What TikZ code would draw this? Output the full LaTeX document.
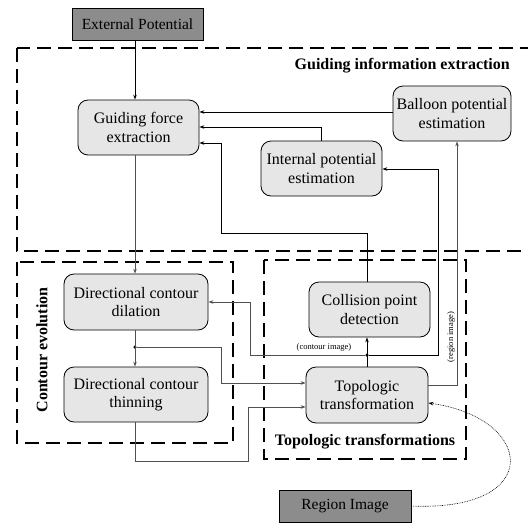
\documentclass[tikz,border=0pt]{standalone}
\usepackage{fontspec}
\setmainfont{Liberation Serif}
\usetikzlibrary{arrows.meta,calc}
\definecolor{boxfill}{HTML}{E6E6E6}
\definecolor{darkfill}{HTML}{8C8C8C}
\definecolor{linegray}{HTML}{505050}
\tikzset{
  procbox/.style={draw=black,line width=0.8pt,fill=boxfill,rounded corners=10pt,align=center,
     font=\fontsize{16}{18.5}\selectfont,inner sep=0pt},
  srcbox/.style={draw=black,line width=0.8pt,fill=darkfill,align=center,
     font=\fontsize{15.5}{18.5}\selectfont,inner sep=0pt},
  groupbox/.style={draw=black,line width=1.6pt,dash pattern=on 14pt off 7pt},
  grouplabel/.style={font=\fontsize{16}{19}\selectfont\bfseries,inner sep=0pt},
  smalllabel/.style={font=\fontsize{8.5}{10}\selectfont,inner sep=0pt},
  conn/.style={line width=0.7pt,draw=black,-{Stealth[length=5pt,width=3.5pt]}},
  gconn/.style={line width=0.7pt,draw=linegray,-{Stealth[length=5pt,width=3.5pt]}},
  jdot/.style={circle,fill=black,inner sep=0pt,minimum size=3.5pt},
}
\begin{document}
\begin{tikzpicture}[x=1pt,y=-1pt]
\useasboundingbox (0,0) rectangle (528,523);
\clip (0,0) rectangle (528,523);
% group boxes
\draw[groupbox] (17,48) rectangle (545,251);
\draw[groupbox] (17,262) rectangle (233,443);
\draw[groupbox] (264,260) rectangle (466,459);
\node[grouplabel,anchor=east] (lgie) at (510,66) {Guiding information extraction};
\node[grouplabel,rotate=90] (lce) at (42,350) {Contour evolution};
\node[grouplabel] (ltt) at (365,442) {Topologic transformations};
% nodes
\node[srcbox,minimum width=131pt,minimum height=32pt] (ext) at (137.5,24) {External Potential};
\node[procbox,minimum width=121pt,minimum height=55pt] (gf) at (138.5,127.5) {Guiding force\\extraction};
\node[procbox,minimum width=118pt,minimum height=55pt] (bal) at (452,113.5) {Balloon potential\\estimation};
\node[procbox,minimum width=121pt,minimum height=55pt] (int) at (321.5,168.5) {Internal potential\\estimation};
\node[procbox,minimum width=144pt,minimum height=56pt] (dil) at (136,302) {Directional contour\\dilation};
\node[procbox,minimum width=144pt,minimum height=55pt] (thin) at (136,394.5) {Directional contour\\thinning};
\node[procbox,minimum width=121pt,minimum height=55pt] (col) at (369.5,309.5) {Collision point\\detection};
\node[procbox,minimum width=122pt,minimum height=56pt] (topo) at (367,395) {Topologic\\transformation};
\node[srcbox,minimum width=132pt,minimum height=32pt] (reg) at (345,506) {Region Image};
% helper coordinates
\coordinate (spine) at (135,0);
\coordinate (colx) at (367,0);
\coordinate (intx) at (321,0);
\coordinate (regx) at (457,0);
\node[jdot] (d1) at (135,347) {};
\node[jdot] (d2) at (367,355) {};
% connectors
\draw[conn] (ext.south -| spine) -- (gf.north -| spine);
\draw[gconn] (gf.south -| spine) -- (dil.north -| spine);
\draw[gconn] (dil.south -| spine) -- (thin.north -| spine);
\draw[gconn] (d1) -- (221,347) -- (221,383) -- (topo.west |- 0,383);
\draw[gconn] (thin.south -| spine) -- (135,461) -- (248,461) -- (248,407) -- (topo.west |- 0,407);
\draw[conn] (topo.north -| colx) -- (col.south -| colx);
\draw[gconn] (d2) -- (250,355) -- (250,302) -- (dil.east |- 0,302);
\draw[conn] (d2) -- (438,355) -- (438,169) -- (int.east |- 0,169);
\draw[conn] (col.north -| colx) -- (367,233) -- (221,233) -- (221,143) -- (gf.east |- 0,143);
\draw[conn] (int.north -| intx) -- (321,127) -- (gf.east |- 0,127);
\draw[conn] (bal.west |- 0,112) -- (gf.east |- 0,112);
\draw[gconn] (topo.east |- 0,385) -- (457,385) -- (bal.south -| regx);
\draw[line width=0.6pt,dash pattern=on 0.8pt off 0.9pt,-{Stealth[length=5pt,width=3.5pt]}] (reg.east) .. controls (545,512) and (535,418) .. (topo.east |- 0,403);
% small labels
\node[smalllabel,anchor=south] (lci) at (324,352) {(contour image)};
\node[smalllabel,rotate=90] (lri) at (451,337) {(region image)};
\end{tikzpicture}
\end{document}
